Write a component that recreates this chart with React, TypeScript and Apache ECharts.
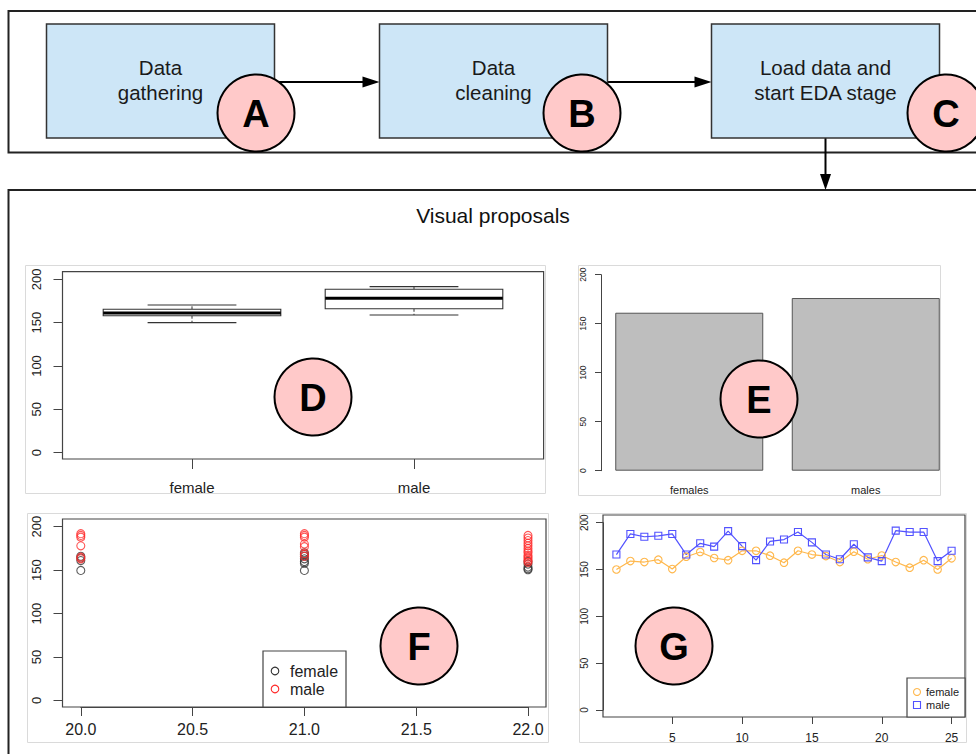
import React, { useEffect, useRef } from 'react';
import * as echarts from 'echarts';

// ---------- data ----------
const flowLabels = ['Data\ngathering', 'Data\ncleaning', 'Load data and\nstart EDA stage'];
const flowLetters = ['A', 'B', 'C'];
const panelLetters = ['D', 'E', 'F', 'G'];
const panelTitle = 'Visual proposals';

// Boxplot (D): [lower whisker, Q1, median, Q3, upper whisker]
const boxCategories = ['female', 'male'];
const boxFemale = [150, 158, 161, 165.4, 170.3];
const boxMale = [158.8, 166, 178, 188.5, 191.5];

// Bar (E)
const barCategories = ['females', 'males'];
const barValues = [161.2, 176.2];

// Scatter (F): age vs height
const femaleAge = [20, 20, 20, 20, 21, 21, 21, 21, 21, 21, 21, 22, 22, 22, 22, 22];
const femaleHeight = [149.7, 161, 164, 166, 149.7, 158, 160, 163, 166, 168, 170, 150.5, 151.6, 153.5, 157, 160];
const maleAge = [20, 20, 20, 20, 20, 20, 21, 21, 21, 21, 21, 21, 21, 22, 22, 22, 22, 22, 22, 22, 22, 22, 22, 22, 22, 22];
const maleHeight = [192, 190, 188, 178, 165, 163, 192, 190, 188, 180, 177, 169, 166, 190, 187, 184, 181, 178, 175, 172, 170, 167, 165, 163, 161, 159];

// Line (G)
const indexG = [1, 2, 3, 4, 5, 6, 7, 8, 9, 10, 11, 12, 13, 14, 15, 16, 17, 18, 19, 20, 21, 22, 23, 24, 25];
const femaleG = [150, 159, 158, 160.5, 150.5, 163.7, 168.7, 162.3, 160, 170, 170, 164.8, 157.3, 170, 166, 164.4, 158, 169, 161, 165, 158, 152, 160, 150, 162];
const maleG = [166, 188, 185, 186, 188, 166, 178, 174.4, 191, 175, 160, 180, 182, 190, 179, 166, 161, 177, 163, 159, 191.5, 190, 190, 159, 170];
const xTicksG = [5, 10, 15, 20, 25];

const yTicks = { min: 0, max: 200, interval: 50 };
const legendLabels = ['female', 'male'];

// ---------- styles ----------
const FONT = 'Liberation Sans, Arial, sans-serif';
const AX = '#444';
const LBL = '#222';
const ORANGE = '#ffb84d';
const BLUE = '#5252ff';
const RED = '#ff2a2a';
const BLACKPT = '#333';

function circleLetter(cx: number, cy: number, letter: string) {
  return [
    { type: 'circle', z: 50, shape: { cx, cy, r: 38.5 }, style: { fill: '#ffc9c9', stroke: '#000', lineWidth: 2 } },
    {
      type: 'text', z: 51, x: cx, y: cy + 1,
      style: { text: letter, fontSize: 38, fontWeight: 'bold', fontFamily: FONT, fill: '#000', align: 'center', verticalAlign: 'middle' },
    },
  ];
}

function yAxisR(grid: number, offset: number, tickLen: number, fontSize: number, margin: number) {
  return {
    type: 'value', gridIndex: grid, ...yTicks, offset,
    axisLine: { show: true, onZero: false, lineStyle: { color: AX, width: 1 } },
    axisTick: { show: true, length: tickLen, lineStyle: { color: AX } },
    axisLabel: { rotate: 90, fontSize, margin, color: LBL, fontFamily: FONT },
    splitLine: { show: false },
  };
}

export default function App() {
  const ref = useRef<HTMLDivElement>(null);
  useEffect(() => {
    if (!ref.current) return;
    const chart = echarts.init(ref.current, undefined, { renderer: 'svg' });

    const boxX = [46.5, 379.5, 711.5];
    const graphic: any[] = [];
    // outer frames
    graphic.push({ type: 'rect', z: 0, shape: { x: 8.5, y: 11, width: 1000, height: 141.5 }, style: { fill: 'none', stroke: '#222', lineWidth: 2 } });
    graphic.push({ type: 'rect', z: 0, shape: { x: 8.5, y: 190, width: 1000, height: 600 }, style: { fill: 'none', stroke: '#222', lineWidth: 2 } });
    // flow boxes
    boxX.forEach((x, i) => {
      graphic.push({ type: 'rect', z: 5, shape: { x, y: 24, width: 228, height: 114 }, style: { fill: '#cde6f7', stroke: '#333', lineWidth: 1.5 } });
      graphic.push({
        type: 'text', z: 6, x: x + 114, y: 80,
        style: { text: flowLabels[i], fontSize: 20.5, lineHeight: 25, fontFamily: FONT, fill: '#1a1a1a', align: 'center', verticalAlign: 'middle' },
      });
    });
    // arrows
    [[274.5, 379.5], [607.5, 711.5]].forEach(([a, b]) => {
      graphic.push({ type: 'line', z: 4, shape: { x1: a, y1: 82, x2: b - 14, y2: 82 }, style: { stroke: '#000', lineWidth: 2 } });
      graphic.push({ type: 'polygon', z: 4, shape: { points: [[b - 17, 76.5], [b, 82], [b - 17, 87.5]] }, style: { fill: '#000' } });
    });
    graphic.push({ type: 'line', z: 4, shape: { x1: 825.5, y1: 138, x2: 825.5, y2: 178 }, style: { stroke: '#000', lineWidth: 2 } });
    graphic.push({ type: 'polygon', z: 4, shape: { points: [[820, 174], [825.5, 190], [831, 174]] }, style: { fill: '#000' } });
    // flow letters
    graphic.push(...circleLetter(256, 113, flowLetters[0]));
    graphic.push(...circleLetter(582, 113, flowLetters[1]));
    graphic.push(...circleLetter(946, 113, flowLetters[2]));
    // title
    graphic.push({
      type: 'text', z: 6, x: 493, y: 215,
      style: { text: panelTitle, fontSize: 21, fontFamily: FONT, fill: '#111', align: 'center', verticalAlign: 'middle' },
    });
    // panel image frames (light)
    const frames = [[25, 265, 520, 228], [578, 265, 362, 230], [27, 513, 521, 229], [579, 513, 387, 229]];
    frames.forEach(([x, y, w, h]) => {
      graphic.push({ type: 'rect', z: 0, shape: { x: x + 0.5, y: y + 0.5, width: w, height: h }, style: { fill: 'none', stroke: '#dadada', lineWidth: 1 } });
    });
    // plot boxes
    const plotBoxes = [[62.5, 271.7, 481.1, 187.3], [62.5, 519, 483.5, 188], [603, 515, 362, 202]];
    plotBoxes.forEach(([x, y, w, h]) => {
      graphic.push({ type: 'rect', z: 1, shape: { x, y, width: w, height: h }, style: { fill: 'none', stroke: AX, lineWidth: 1.2 } });
    });
    // legend F
    graphic.push({ type: 'rect', z: 20, shape: { x: 263, y: 651, width: 83, height: 56 }, style: { fill: '#fff', stroke: AX, lineWidth: 1.2 } });
    graphic.push({ type: 'circle', z: 21, shape: { cx: 275, cy: 671, r: 3.8 }, style: { fill: 'none', stroke: BLACKPT, lineWidth: 1.1 } });
    graphic.push({ type: 'circle', z: 21, shape: { cx: 275, cy: 689, r: 3.8 }, style: { fill: 'none', stroke: RED, lineWidth: 1.1 } });
    graphic.push({ type: 'text', z: 21, x: 290, y: 671, style: { text: legendLabels[0], fontSize: 16, fontFamily: FONT, fill: LBL, align: 'left', verticalAlign: 'middle' } });
    graphic.push({ type: 'text', z: 21, x: 290, y: 689, style: { text: legendLabels[1], fontSize: 16, fontFamily: FONT, fill: LBL, align: 'left', verticalAlign: 'middle' } });
    // legend G
    graphic.push({ type: 'rect', z: 20, shape: { x: 907, y: 678, width: 58, height: 39 }, style: { fill: '#fff', stroke: AX, lineWidth: 1.2 } });
    graphic.push({ type: 'circle', z: 21, shape: { cx: 917, cy: 692, r: 3.5 }, style: { fill: 'none', stroke: ORANGE, lineWidth: 1.1 } });
    graphic.push({ type: 'rect', z: 21, shape: { x: 913.5, y: 701.5, width: 7, height: 7 }, style: { fill: 'none', stroke: BLUE, lineWidth: 1.1 } });
    graphic.push({ type: 'text', z: 21, x: 926, y: 692, style: { text: legendLabels[0], fontSize: 11, fontFamily: FONT, fill: LBL, align: 'left', verticalAlign: 'middle' } });
    graphic.push({ type: 'text', z: 21, x: 926, y: 705, style: { text: legendLabels[1], fontSize: 11, fontFamily: FONT, fill: LBL, align: 'left', verticalAlign: 'middle' } });
    // panel letters
    graphic.push(...circleLetter(313, 397, panelLetters[0]));
    graphic.push(...circleLetter(759, 399, panelLetters[1]));
    graphic.push(...circleLetter(419, 646, panelLetters[2]));
    graphic.push(...circleLetter(674, 646, panelLetters[3]));

    const option: any = {
      animation: false,
      backgroundColor: '#fff',
      textStyle: { fontFamily: FONT },
      grid: [
        { left: 81, top: 279.3, width: 444, height: 173.4 },
        { left: 601, top: 274.7, width: 353, height: 196 },
        { left: 80.8, top: 526.7, width: 447.2, height: 173.8 },
        { left: 603, top: 522.7, width: 362, height: 187.3 },
      ],
      xAxis: [
        {
          type: 'category', gridIndex: 0, data: boxCategories, offset: 6.3,
          axisLine: { show: false, onZero: false },
          axisTick: { show: true, alignWithLabel: true, length: 10, lineStyle: { color: AX } },
          axisLabel: { fontSize: 15, margin: 21, color: LBL, fontFamily: FONT },
        },
        {
          type: 'category', gridIndex: 1, data: barCategories,
          axisLine: { show: false, onZero: false }, axisTick: { show: false },
          axisLabel: { fontSize: 11, margin: 14, color: LBL, fontFamily: FONT },
        },
        {
          type: 'value', gridIndex: 2, min: 20, max: 22, interval: 0.5, offset: 6.5,
          axisLine: { show: true, onZero: false, lineStyle: { color: AX } },
          axisTick: { show: true, length: 9, lineStyle: { color: AX } },
          axisLabel: { fontSize: 16, margin: 14, color: LBL, fontFamily: FONT, formatter: (v: number) => v.toFixed(1) },
          splitLine: { show: false },
        },
        {
          type: 'value', gridIndex: 3, min: 0.04, max: 25.96, offset: 7,
          axisLine: { show: false, onZero: false },
          axisTick: { show: true, length: 7, lineStyle: { color: AX }, customValues: xTicksG },
          axisLabel: { fontSize: 12, margin: 15, color: LBL, fontFamily: FONT, customValues: xTicksG },
          splitLine: { show: false },
        },
      ],
      yAxis: [
        yAxisR(0, 18.5, 9, 13, 20),
        yAxisR(1, 0, 6, 8.5, 14),
        yAxisR(2, 18.3, 9, 13, 20),
        yAxisR(3, 0, 7, 10, 14),
      ],
      series: [
        {
          type: 'custom', xAxisIndex: 0, yAxisIndex: 0,
          data: [[0, ...boxFemale], [1, ...boxMale]],
          encode: { x: 0, y: [1, 2, 3, 4, 5] },
          renderItem: (_p: any, api: any) => {
            const idx = api.value(0);
            const pMin = api.coord([idx, api.value(1)]);
            const pQ1 = api.coord([idx, api.value(2)]);
            const pMed = api.coord([idx, api.value(3)]);
            const pQ3 = api.coord([idx, api.value(4)]);
            const pMax = api.coord([idx, api.value(5)]);
            const band = api.size([1, 0])[0];
            const bw = band * 0.8;
            const cx = pMed[0];
            const st = '#333';
            return {
              type: 'group',
              children: [
                { type: 'line', shape: { x1: cx, y1: pQ3[1], x2: cx, y2: pMax[1] }, style: { stroke: st, lineWidth: 1, lineDash: [3, 2] } },
                { type: 'line', shape: { x1: cx, y1: pQ1[1], x2: cx, y2: pMin[1] }, style: { stroke: st, lineWidth: 1, lineDash: [3, 2] } },
                { type: 'line', shape: { x1: cx - bw / 4, y1: pMax[1], x2: cx + bw / 4, y2: pMax[1] }, style: { stroke: st, lineWidth: 1.1 } },
                { type: 'line', shape: { x1: cx - bw / 4, y1: pMin[1], x2: cx + bw / 4, y2: pMin[1] }, style: { stroke: st, lineWidth: 1.1 } },
                { type: 'rect', shape: { x: cx - bw / 2, y: pQ3[1], width: bw, height: pQ1[1] - pQ3[1] }, style: { fill: '#fff', stroke: st, lineWidth: 1.1 } },
                { type: 'line', shape: { x1: cx - bw / 2, y1: pMed[1], x2: cx + bw / 2, y2: pMed[1] }, style: { stroke: '#000', lineWidth: 3 } },
              ],
            };
          },
        },
        {
          type: 'bar', xAxisIndex: 1, yAxisIndex: 1, data: barValues, barWidth: 148,
          itemStyle: { color: '#bebebe', borderColor: '#555', borderWidth: 1 },
        },
        {
          type: 'scatter', name: 'female', xAxisIndex: 2, yAxisIndex: 2,
          data: femaleAge.map((a, i) => [a, femaleHeight[i]]),
          symbol: 'circle', symbolSize: 8,
          itemStyle: { color: 'rgba(0,0,0,0)', borderColor: BLACKPT, borderWidth: 1.1 },
        },
        {
          type: 'scatter', name: 'male', xAxisIndex: 2, yAxisIndex: 2,
          data: maleAge.map((a, i) => [a, maleHeight[i]]),
          symbol: 'circle', symbolSize: 8,
          itemStyle: { color: 'rgba(0,0,0,0)', borderColor: RED, borderWidth: 1.1 },
        },
        {
          type: 'line', name: 'female', xAxisIndex: 3, yAxisIndex: 3,
          data: indexG.map((x, i) => [x, femaleG[i]]),
          symbol: 'circle', symbolSize: 7.5, showAllSymbol: true,
          lineStyle: { color: ORANGE, width: 1.2 },
          itemStyle: { color: 'rgba(0,0,0,0)', borderColor: ORANGE, borderWidth: 1.1 },
        },
        {
          type: 'line', name: 'male', xAxisIndex: 3, yAxisIndex: 3,
          data: indexG.map((x, i) => [x, maleG[i]]),
          symbol: 'rect', symbolSize: 7, showAllSymbol: true,
          lineStyle: { color: BLUE, width: 1.2 },
          itemStyle: { color: 'rgba(0,0,0,0)', borderColor: BLUE, borderWidth: 1.1 },
        },
      ],
      graphic,
    };
    chart.setOption(option);
    return () => chart.dispose();
  }, []);
  return <div ref={ref} style={{ position: 'absolute', left: 0, top: 0, width: 976, height: 754 }} />;
}
